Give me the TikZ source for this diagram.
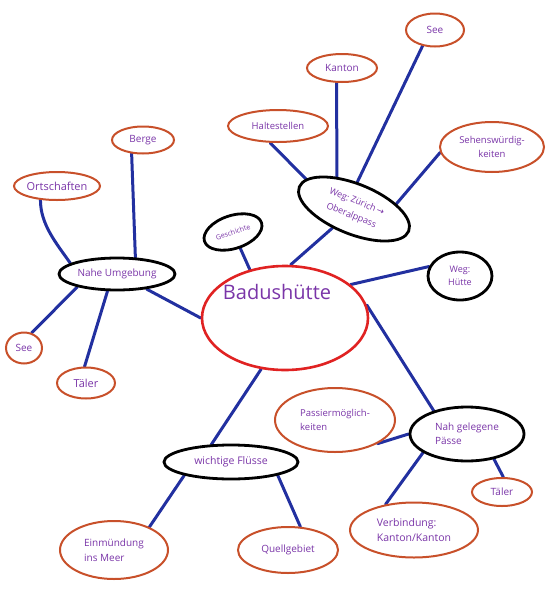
\documentclass[tikz,border=0pt]{standalone}
\usepackage{fontspec}
\setmainfont{Open Sans}
\newfontfamily\symfont{DejaVu Sans}
\usetikzlibrary{shapes.geometric,backgrounds}
\definecolor{edgeblue}{HTML}{2230A0}
\definecolor{hubred}{HTML}{E02222}
\definecolor{leaforange}{HTML}{C8502A}
\definecolor{txtpurple}{HTML}{7A35A8}
\tikzset{
  base/.style={ellipse, inner sep=0pt, fill=white, text=txtpurple, font=\fontsize{10}{13}\selectfont, align=center},
  hub/.style={base, draw=hubred, line width=2.6pt},
  sub/.style={base, draw=black, line width=2.8pt},
  leaf/.style={base, draw=leaforange, line width=2pt},
  link/.style={draw=edgeblue, line width=3pt, line cap=round},
}
\begin{document}
\begin{tikzpicture}[x=1pt,y=-1pt]
\useasboundingbox (0,0) rectangle (550,590);
% nodes
\node[hub, minimum width=166, minimum height=104] (bad) at (285,318) {};
\node[text=txtpurple, font=\fontsize{20}{22}\selectfont] (badt) at (277,292) {Badushütte};
\node[sub, minimum width=116, minimum height=32] (nahe) at (117,274) {Nahe Umgebung};
\node[leaf, minimum width=86, minimum height=28, font=\fontsize{11}{13}\selectfont] (orts) at (57,186) {Ortschaften};
\node[leaf, minimum width=62, minimum height=27] (berge) at (143,140) {Berge};
\node[leaf, minimum width=36, minimum height=31] (seel) at (24,348) {See};
\node[leaf, minimum width=58, minimum height=31, font=\fontsize{11}{13}\selectfont] (taelerl) at (86,383) {Täler};
\node[sub, minimum width=60, minimum height=33, rotate=18, font=\fontsize{7}{8}\selectfont] (gesch) at (233,232) {Geschichte};
\node[sub, minimum width=118, minimum height=50, rotate=-22, font=\fontsize{9}{15}\selectfont] (wegz) at (354,209) {Weg:~Zürich\,{\symfont →}\\Oberalppass};
\node[leaf, minimum width=100, minimum height=32, font=\fontsize{9.5}{12}\selectfont] (halt) at (278,126) {Haltestellen};
\node[leaf, minimum width=70, minimum height=28] (kanton) at (342,68) {Kanton};
\node[leaf, minimum width=58, minimum height=33] (seet) at (435,30) {See};
\node[leaf, minimum width=104, minimum height=50, font=\fontsize{9.5}{14}\selectfont] (sehens) at (492,147) {Sehenswürdig-\\keiten};
\node[sub, minimum width=64, minimum height=48, font=\fontsize{9}{13}\selectfont] (wegh) at (460,276) {Weg:\\Hütte};
\node[sub, minimum width=114, minimum height=54, align=left, font=\fontsize{10}{14}\selectfont] (pass) at (467,434) {Nah gelegene\\Pässe};
\node[leaf, minimum width=120, minimum height=64, align=left, font=\fontsize{9.5}{14}\selectfont] (passier) at (335,420) {Passiermöglich-\\keiten};
\node[leaf, minimum width=60, minimum height=28] (taelerr) at (502,492) {Täler};
\node[leaf, minimum width=128, minimum height=55, align=left, font=\fontsize{10.5}{15}\selectfont] (verb) at (414,530) {Verbindung:\\Kanton/Kanton};
\node[sub, minimum width=134, minimum height=34, font=\fontsize{10.5}{13}\selectfont] (fluss) at (231,462) {wichtige Flüsse};
\node[leaf, minimum width=108, minimum height=58, align=left, font=\fontsize{10}{15}\selectfont] (einm) at (114,550) {Einmündung\\ins Meer};
\node[leaf, minimum width=100, minimum height=46] (quell) at (288,550) {Quellgebiet};
% connectors
\begin{scope}[on background layer]
\draw[link] (bad.180) -- (nahe.-27);
\draw[link] (bad.126) -- (gesch);
\draw[link] (bad.84) -- (wegz);
\draw[link] (bad.27) -- (wegh.163);
\draw[link] (bad.9) -- (pass.145);
\draw[link] (bad.-115) -- (fluss.138);
\draw[link] (orts.-140) to[out=-90,in=125,looseness=0.9] (nahe.167);
\draw[link] (berge.-130) -- (nahe.42);
\draw[link] (seel.63) -- (nahe.-162);
\draw[link] (taelerl.95) -- (nahe.-119);
\draw[link] (halt.-115) -- (wegz.170);
\draw[link] (kanton.-110) -- (wegz.140);
\draw[link] (seet.-128) -- (wegz.105);
\draw[link] (sehens.-174) -- (wegz.29);
\draw[link] (passier.-29) -- (pass.180);
\draw[link] (verb.138) -- (pass.-157);
\draw[link] (taelerr.85) -- (pass.-43);
\draw[link] (einm.33) -- (fluss.-164);
\draw[link] (quell.62) -- (fluss.-16);
\end{scope}
\end{tikzpicture}
\end{document}
